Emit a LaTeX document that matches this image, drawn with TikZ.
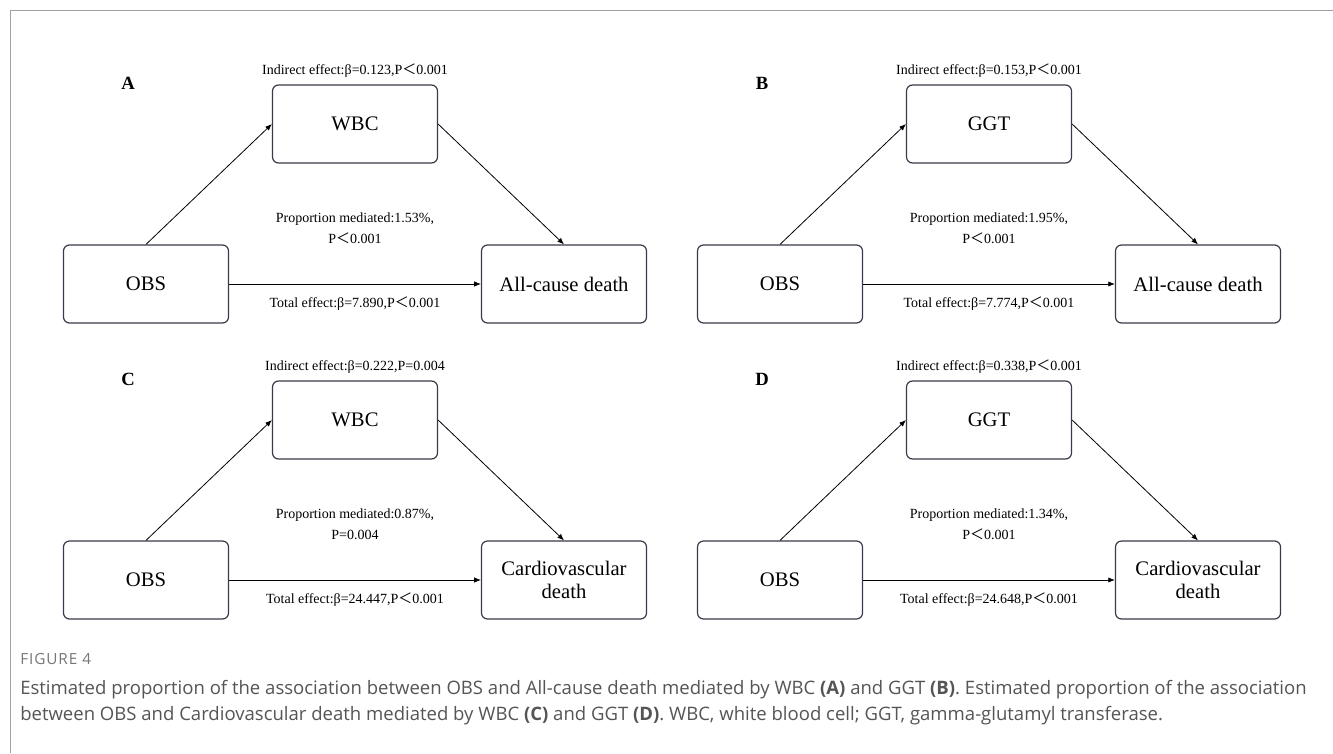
\documentclass[tikz,border=0pt]{standalone}
\usepackage{fontspec}
\setmainfont{Liberation Serif}
\newfontfamily\capfont{Open Sans}
\newfontfamily\cjk{Noto Sans CJK SC}
\usetikzlibrary{arrows.meta}
\newcommand\fwlt{{\cjk ＜}}
\definecolor{boxc}{HTML}{3A3A4A}
\definecolor{capc}{HTML}{555555}
\definecolor{figc}{HTML}{777777}
\definecolor{framec}{HTML}{A0A0A0}
\tikzset{
  mbox/.style={draw=boxc, rounded corners=4.5pt, line width=0.9pt, minimum width=123.75pt, minimum height=58.5pt, inner sep=0pt, align=center, font=\fontsize{15.5}{17.5}\selectfont},
  lbl/.style={font=\fontsize{10.5}{16}\selectfont, align=center, inner sep=0pt},
  plet/.style={font=\fontsize{14}{16}\selectfont\bfseries, inner sep=0pt},
  arr/.style={-{Latex[length=5pt,width=4pt]}, line width=0.6pt},
  captxt/.style={font=\capfont\fontsize{13.9}{16}\selectfont, text=capc, anchor=west, inner sep=0pt}
}
\newcommand\mpanel[9]{%
  \begin{scope}[shift={(#1,#2)}]
    \node[plet] (#3let) at (128,83) {#3};
    \node[mbox] (#3med) at (355,124) {#4};
    \node[mbox] (#3obs) at (146,284) {OBS};
    \node[mbox] (#3out) at (564,284) {#5};
    \node[lbl] (#3ind) at (355,71) {#6};
    \node[lbl] (#3prop) at (355,228.5) {#7\\#8};
    \node[lbl] (#3tot) at (355,304) {#9};
    \draw[arr] (#3obs.north) -- (#3med.west);
    \draw[arr] (#3med.east) -- (#3out.north);
    \draw[arr] (#3obs.east) -- (#3out.west);
  \end{scope}}
\begin{document}
\begin{tikzpicture}[x=0.75pt,y=-0.75pt]
\useasboundingbox (0,0) rectangle (1333,753);
\fill[white] (0,0) rectangle (1333,753);
\draw[framec, line width=1.1pt] (10.5,753) -- (10.5,10.5) -- (1333,10.5);
\mpanel{0}{0}{A}{WBC}{All-cause death}{Indirect effect:β=0.123,P\fwlt0.001}{Proportion mediated:1.53\%,}{P\fwlt0.001}{Total effect:β=7.890,P\fwlt0.001}
\mpanel{634}{0}{B}{GGT}{All-cause death}{Indirect effect:β=0.153,P\fwlt0.001}{Proportion mediated:1.95\%,}{P\fwlt0.001}{Total effect:β=7.774,P\fwlt0.001}
\mpanel{0}{296}{C}{WBC}{Cardiovascular\\death}{Indirect effect:β=0.222,P=0.004}{Proportion mediated:0.87\%,}{P=0.004}{Total effect:β=24.447,P\fwlt0.001}
\mpanel{634}{296}{D}{GGT}{Cardiovascular\\death}{Indirect effect:β=0.338,P\fwlt0.001}{Proportion mediated:1.34\%,}{P\fwlt0.001}{Total effect:β=24.648,P\fwlt0.001}
\node[captxt, text=figc, font=\capfont\fontsize{11.5}{13}\selectfont\addfontfeature{LetterSpace=6}] (fig) at (20,659) {FIGURE 4};
\node[captxt] (cap1) at (20,690) {Estimated proportion of the association between OBS and All-cause death mediated by WBC \textbf{(A)} and GGT \textbf{(B)}. Estimated proportion of the association};
\node[captxt] (cap2) at (20,716) {between OBS and Cardiovascular death mediated by WBC \textbf{(C)} and GGT \textbf{(D)}. WBC, white blood cell; GGT, gamma-glutamyl transferase.};
\end{tikzpicture}
\end{document}
